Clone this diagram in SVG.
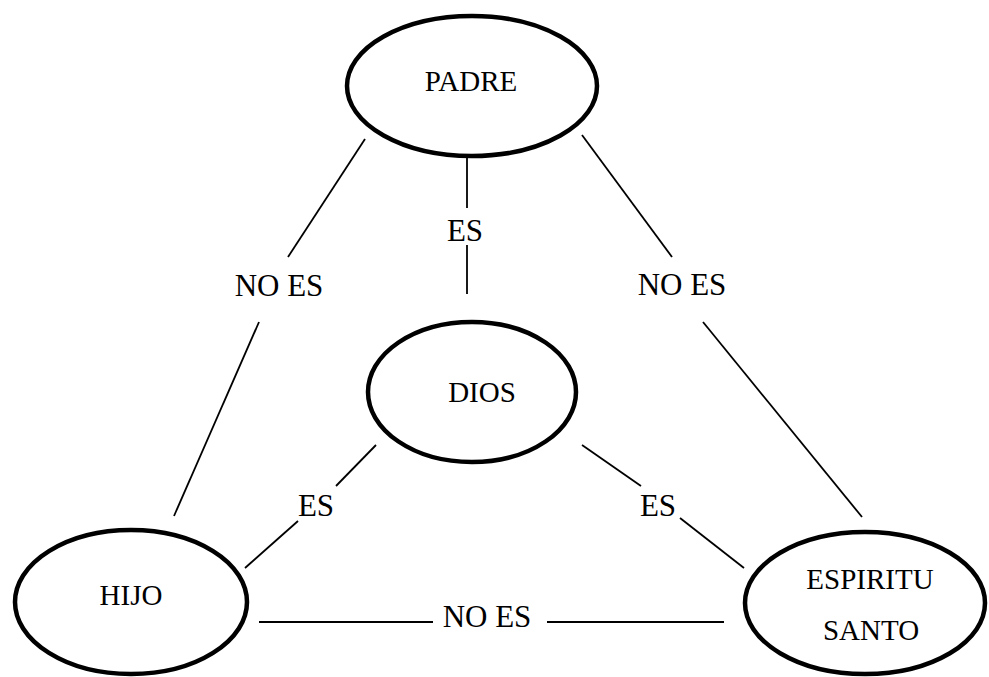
<svg xmlns="http://www.w3.org/2000/svg" width="989" height="677" viewBox="0 0 989 677">
<style>
.node{fill:#fff;stroke:#000;stroke-width:4.5}
.nt{font-size:29px;fill:#000;text-anchor:middle}
.lt{font-size:31px;fill:#000;text-anchor:middle}
.c{stroke:#000;stroke-width:1.8;fill:none}
</style>
<rect width="989" height="677" fill="#fff"/>
<g font-family="Liberation Serif, Times New Roman, serif">
<g id="connectors">
<line class="c" x1="467" y1="158" x2="467" y2="208"/>
<line class="c" x1="467" y1="245" x2="467" y2="294"/>
<text class="lt" x="465" y="241">ES</text>
<line class="c" x1="365" y1="139" x2="288" y2="257"/>
<line class="c" x1="259" y1="322" x2="174" y2="516"/>
<text class="lt" x="279" y="296">NO ES</text>
<line class="c" x1="582" y1="135" x2="672" y2="257"/>
<line class="c" x1="703" y1="322" x2="862" y2="517"/>
<text class="lt" x="682" y="295">NO ES</text>
<line class="c" x1="376" y1="445" x2="336" y2="486"/>
<line class="c" x1="298" y1="521" x2="245" y2="568"/>
<text class="lt" x="316" y="516">ES</text>
<line class="c" x1="582" y1="445" x2="641" y2="486"/>
<line class="c" x1="680" y1="518" x2="744" y2="568"/>
<text class="lt" x="658" y="516">ES</text>
<line class="c" x1="259" y1="622" x2="433" y2="622"/>
<line class="c" x1="547" y1="622" x2="724" y2="622"/>
<text class="lt" x="487" y="627">NO ES</text>
</g>
<g id="padre">
<ellipse class="node" cx="472" cy="86" rx="125" ry="70"/>
<text class="nt" x="471" y="91">PADRE</text>
</g>
<g id="dios">
<ellipse class="node" cx="472" cy="392" rx="104" ry="70"/>
<text class="nt" x="482" y="402">DIOS</text>
</g>
<g id="hijo">
<ellipse class="node" cx="131" cy="602" rx="116" ry="72"/>
<text class="nt" x="131" y="605">HIJO</text>
</g>
<g id="espiritu">
<ellipse class="node" cx="865" cy="603" rx="120" ry="71"/>
<text class="nt" x="870" y="589">ESPIRITU</text>
<text class="nt" x="871" y="640">SANTO</text>
</g>
</g>
</svg>
